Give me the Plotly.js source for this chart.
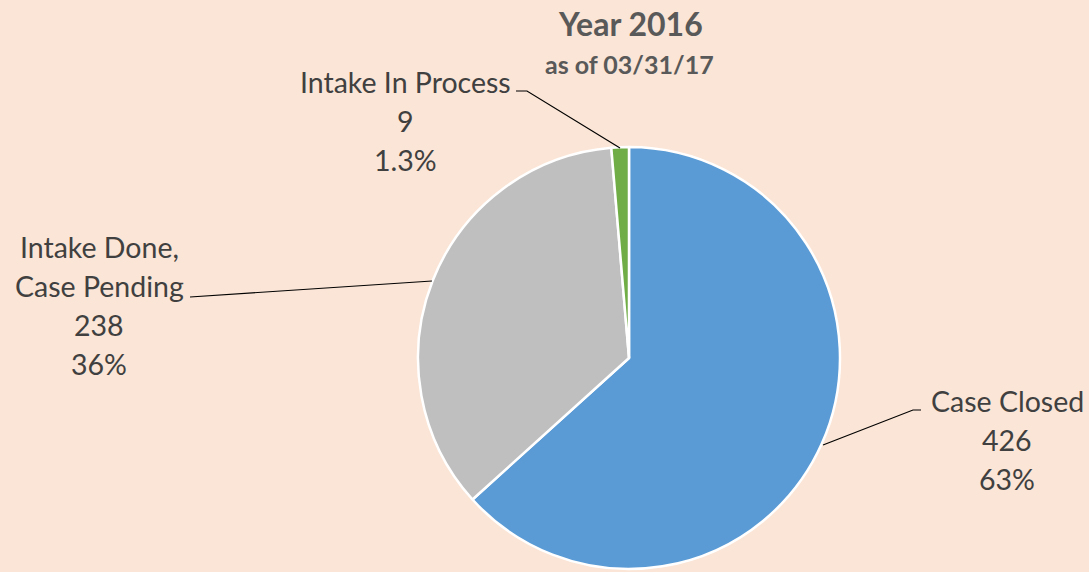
<!DOCTYPE html>
<html>
<head>
<meta charset="utf-8">
<script src="https://cdn.plot.ly/plotly-3.0.1.min.js"></script>
<style>html,body{margin:0;padding:0;background:#FBE5D6;}#chart{width:1089px;height:572px;}</style>
</head>
<body>
<div id="chart"></div>
<script>
// ---- data ----
const categories = ['Case Closed', 'Intake Done, Case Pending', 'Intake In Process'];
const counts = [426, 238, 9];
const pctLabels = ['63%', '36%', '1.3%'];
const labelLines = [['Case Closed'], ['Intake Done,', 'Case Pending'], ['Intake In Process']];
const colors = ['#5B9BD5', '#BFBFBF', '#70AD47'];
const titleText = 'Year 2016';
const subtitleText = 'as of 03/31/17';

// ---- layout helpers (pixel positions) ----
const W = 1089, H = 572;
const px = x => x / W;
const py = y => 1 - y / H;
const FONT = 'Lato, "Open Sans", sans-serif';
// label block anchors: centre x, first line y, line step
const labelPos = [
  {x: 1007, y: 401},
  {x: 99, y: 247},
  {x: 406, y: 82}
];
const lineStep = 39;
// leader lines
const leaders = [
  [[921, 410], [913, 410], [823, 445]],
  [[190, 297], [190, 297], [432, 281]],
  [[516, 91], [527, 91], [620, 148]]
];

const annotations = [];
categories.forEach((c, i) => {
  const lines = labelLines[i].concat([String(counts[i]), pctLabels[i]]);
  lines.forEach((t, k) => {
    annotations.push({
      xref: 'paper', yref: 'paper', x: px(labelPos[i].x), y: py(labelPos[i].y + k * lineStep),
      xanchor: 'center', yanchor: 'middle', showarrow: false, text: t,
      font: {family: FONT, size: 28.5, color: '#404040'}
    });
  });
});
annotations.push({xref: 'paper', yref: 'paper', x: px(630), y: py(23), xanchor: 'center', yanchor: 'middle',
  showarrow: false, text: '<b>' + titleText + '</b>', font: {family: FONT, size: 32, color: '#595959'}});
annotations.push({xref: 'paper', yref: 'paper', x: px(629), y: py(64), xanchor: 'center', yanchor: 'middle',
  showarrow: false, text: '<b>' + subtitleText + '</b>', font: {family: FONT, size: 25, color: '#595959'}});

const shapes = leaders.map(pts => ({
  type: 'path', xref: 'paper', yref: 'paper',
  path: 'M' + pts.map(p => px(p[0]) + ',' + py(p[1])).join(' L'),
  line: {color: '#000000', width: 1.2}
}));

const trace = {
  type: 'pie', labels: categories, values: counts, sort: false, direction: 'clockwise', rotation: 0,
  marker: {colors: colors, line: {color: '#FFFFFF', width: 2.5}},
  textinfo: 'none', hoverinfo: 'label+value+percent',
  domain: {x: [px(418), px(840)], y: [py(569), py(147)]}
};

Plotly.newPlot('chart', [trace], {
  width: W, height: H, margin: {l: 0, r: 0, t: 0, b: 0},
  paper_bgcolor: '#FBE5D6', plot_bgcolor: '#FBE5D6', showlegend: false,
  annotations: annotations, shapes: shapes
}, {displayModeBar: false, staticPlot: true});
</script>
</body>
</html>
